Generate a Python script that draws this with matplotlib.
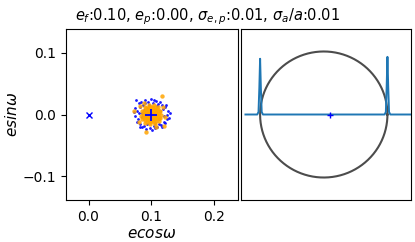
import numpy as np
import matplotlib
matplotlib.use('Agg')
import matplotlib.pyplot as plt

# eccentricity values
e_f = 0.10
e_p = 0.00
sig_ep = 0.01
sig_a = 0.01

# scatter offsets around (e_f, 0) in units of 1e-3
blue_dx = [-24, 0, -20, -17, -22, -25, -21, -18, -14, -8, -2, 4, 10, 16, 20, 25, 30, 27, 22, 18,
           14, 8, 3, -5, -10, -13, -26, -15, -12, 12, 9, -6, 6, 15, -19, 21, -3, 17, -11, 24,
           -23, 11, -16, 28, 1, -9, 13, -27, 19, -7, 23, 5, -18, 26, -14, 7]
blue_dy = [24, 25, 18, 12, 6, -2, -8, -15, -20, -24, -22, -19, -21, -17, -12, -8, 3, 6, 12, 16,
           20, 22, 19, 21, 19, 15, 10, -4, 8, -8, 14, -16, -14, 6, 2, -3, 16, -20, -18, 15,
           -12, 17, 20, -5, -25, 24, -15, 4, 9, 11, -14, 23, -20, 0, 3, -22]

orange_dx = [0, 3, -2, -3, 2, 4, -1, 1, -4, 5, -5,
             7, 6, 3, -1, -5, -7, -7, -5, -1, 3, 6, 5,
             10, 9, 7, 3, -2, -6, -9, -10, -9, -7, -3, 2, 6, 9,
             13, 12, 10, 6, 1, -4, -8, -12, -13, -12, -10, -6, -1, 4, 8, 12,
             16, 15, 11, 5, -3, -10, -15, -16, -14, -9, -2, 6, 12, 15,
             17, 21, -8, -28, 19, -20, -18, 8, -12, 22,
             2, -2, 4, -6, 8, -3, 1, -8, 8, 0, -11, 11]
orange_dy = [0, 1, 3, -2, -3, -1, -4, 4, 1, 3, -3,
             0, 4, 7, 7, 5, 2, -2, -6, -7, -6, -4, -7,
             1, 5, 8, 10, 10, 8, 5, 0, -4, -8, -10, -10, -8, -5,
             2, 6, 9, 12, 13, 12, 10, 6, 1, -4, -9, -12, -13, -12, -10, -6,
             -1, 5, 12, 15, 16, 13, 6, -2, -8, -14, -16, -15, -11, -6,
             30, -19, -28, 6, 12, -12, 14, -21, 19, -4,
             2, -1, 6, -1, -2, -8, -9, 3, 3, 12, -6, -3]

# projected orbit profile (right panel)
prof_x = [-1.33, -1.145, -1.125, -1.112, -1.10, -1.088, -1.075, -1.055,
          0.855, 0.875, 0.888, 0.90, 0.912, 0.925, 0.945, 1.33]
prof_y = [0, 0, 0.04, 0.42, 0.88, 0.42, 0.04, 0,
          0, 0.04, 0.44, 0.91, 0.44, 0.04, 0, 0]

fig = plt.figure(figsize=(4.15, 2.42), dpi=100)
ax1 = fig.add_axes([66/415, 42/242, 172/415, 171/242])
ax2 = fig.add_axes([241/415, 42/242, 170/415, 171/242])

bx = e_f + np.array(blue_dx) * 1e-3
by = np.array(blue_dy) * 1e-3
ox = e_f + np.array(orange_dx) * 1e-3
oy = np.array(orange_dy) * 1e-3

ax1.scatter(bx, by, s=4, color='blue', linewidths=0, alpha=0.9)
ax1.scatter(ox, oy, s=10, color='orange', linewidths=0, alpha=0.85)
ax1.plot(e_p, 0, 'x', color='blue', ms=5, mew=1)
ax1.plot(e_f, 0, '+', color='blue', ms=8, mew=1.3)
ax1.set_xlim(-0.036, 0.239)
ax1.set_ylim(-0.139, 0.139)
ax1.set_xticks([0.0, 0.1, 0.2])
ax1.set_yticks([-0.1, 0.0, 0.1])
ax1.tick_params(labelsize=10)
ax1.set_xlabel(r'$ecos\omega$', fontsize=11, labelpad=2)
ax1.set_ylabel(r'$esin\omega$', fontsize=11, labelpad=2)

# orbit ellipse, star at focus
t = np.linspace(0, 2 * np.pi, 400)
a_orb = 1.0
b_orb = a_orb * np.sqrt(1 - e_f**2)
ax2.plot(a_orb * np.cos(t) - a_orb * e_f, b_orb * np.sin(t), color='k', alpha=0.7, lw=1.5)
ax2.plot(prof_x, prof_y, color='tab:blue', lw=1.4)
ax2.plot(0, 0, '+', color='blue', ms=5, mew=1)
ax2.set_xlim(-1.40, 1.27)
ax2.set_ylim(-1.35, 1.35)
ax2.set_xticks([])
ax2.set_yticks([])

fig.suptitle(r'$e_f$:%.2f, $e_p$:%.2f, $\sigma_{e,p}$:%.2f, $\sigma_a/a$:%.2f' % (e_f, e_p, sig_ep, sig_a),
             fontsize=10.5, y=0.975)

fig.savefig('out.png', dpi=100)
